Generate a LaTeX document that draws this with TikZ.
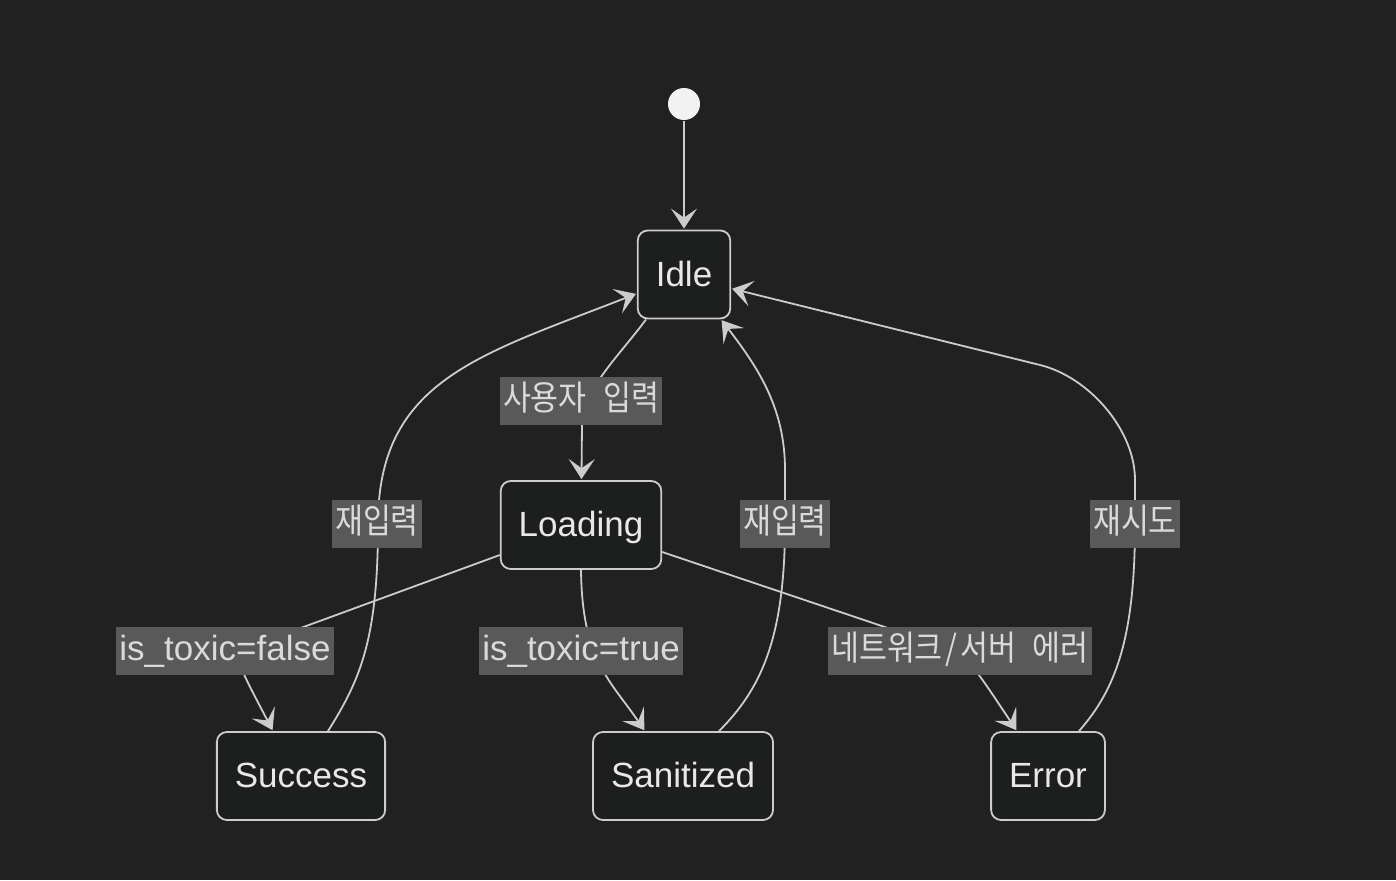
\documentclass[tikz,border=0pt]{standalone}
\usepackage{fontspec}
\setmainfont{Liberation Sans}
\newfontfamily\kr[FakeStretch=0.88, WordSpace=2.4]{Noto Sans CJK KR}
\usetikzlibrary{arrows.meta}

\definecolor{bgcol}{HTML}{212121}
\definecolor{boxfill}{HTML}{1D1E1E}
\definecolor{linecol}{HTML}{CCCCCC}
\definecolor{lblfill}{HTML}{595959}
\definecolor{lbltext}{HTML}{DADADA}
\definecolor{boxtext}{HTML}{E8E8E8}
\definecolor{startcol}{HTML}{F2F2F2}

\begin{document}
\begin{tikzpicture}[
    x = 1pt, y = -1pt, % pixel grid, y grows downwards
    > = {Stealth[length=20pt,width=26pt,inset=9pt]}, % arrow head style
    shorten > = 1pt, % don't touch arrow head to node
    line width = 1.8pt % line style
    ]

    \tikzset{
    statebox/.style = {
    draw = linecol,
    fill = boxfill,
    rounded corners = 10pt,
    minimum height = 88pt,
    inner xsep = 18pt,
    text = boxtext,
    font = \fontsize{35}{40}\selectfont,
    text height = 28pt, text depth = 5pt
    },
    trans/.style = {draw = linecol, ->},
    cond/.style = {
    fill = lblfill,
    text = lbltext,
    inner xsep = 3pt, inner ysep = 0pt,
    minimum height = 48pt,
    font = \fontsize{35}{40}\selectfont,
    text height = 26pt, text depth = 8pt
    },
    krcond/.style = {cond, font = \kr\fontsize{34.5}{40}\selectfont}
    }

    \fill[bgcol] (0,0) rectangle (1396,880);
    \useasboundingbox (0,0) rectangle (1396,880);

    \node[circle, fill=startcol, minimum size=32pt, inner sep=0pt] (init) at (684,104) {};
    \node[statebox] (idle) at (684,274.5) {Idle};
    \node[statebox] (loading) at (581,525) {Loading};
    \node[statebox] (success) at (301,776) {Success};
    \node[statebox] (sanitized) at (683,776) {Sanitized};
    \node[statebox] (error) at (1048,776) {Error};

    \draw[trans] (init) -- (idle);
    \draw[trans] ([xshift=-38pt]idle.south) .. controls (620,355) and (582,390) .. (582,425) -- (loading)
        node[krcond] (lblinput) at (581,401) {사용자 입력};

    \draw[trans] ([yshift=-30pt]loading.west) -- (238,651) .. controls (240,668) .. ([xshift=-28pt]success.north)
        node[cond] (lblfalse) at (225,651) {is\_toxic=false};
    \draw[trans] (loading.south) .. controls (582,660) and (610,680) .. ([xshift=-38pt]sanitized.north)
        node[cond] (lbltrue) at (581,651) {is\_toxic=true};
    \draw[trans] ([yshift=-27pt]loading.east) -- (956,651) .. controls (975,668) .. ([xshift=-31pt]error.north)
        node[krcond] (lblerr) at (960,651) {네트워크\kern3pt/\kern3pt서버 에러};

    % back to Idle
    \draw[trans] ([xshift=27pt]success.north) .. controls (360,680) and (378,640) .. (378,524)
        .. controls (378,380) and (480,355) .. ([yshift=-19pt]idle.west)
        node[krcond] (lblretype) at (377,524) {재입력};
    \draw[trans] ([xshift=36pt]sanitized.north) .. controls (760,690) and (785,640) .. (785,524) -- (785,470)
        .. controls (785,410) and (760,370) .. ([xshift=37pt]idle.south)
        node[krcond] (lblretype2) at (785,524) {재입력};
    \draw[trans] ([xshift=31pt]error.north) .. controls (1115,690) and (1135,640) .. (1135,524) -- (1135,480)
        .. controls (1135,430) and (1089,377) .. (1040,365) -- ([yshift=-14pt]idle.east)
        node[krcond] (lblretry) at (1135,524) {재시도};
\end{tikzpicture}
\end{document}
